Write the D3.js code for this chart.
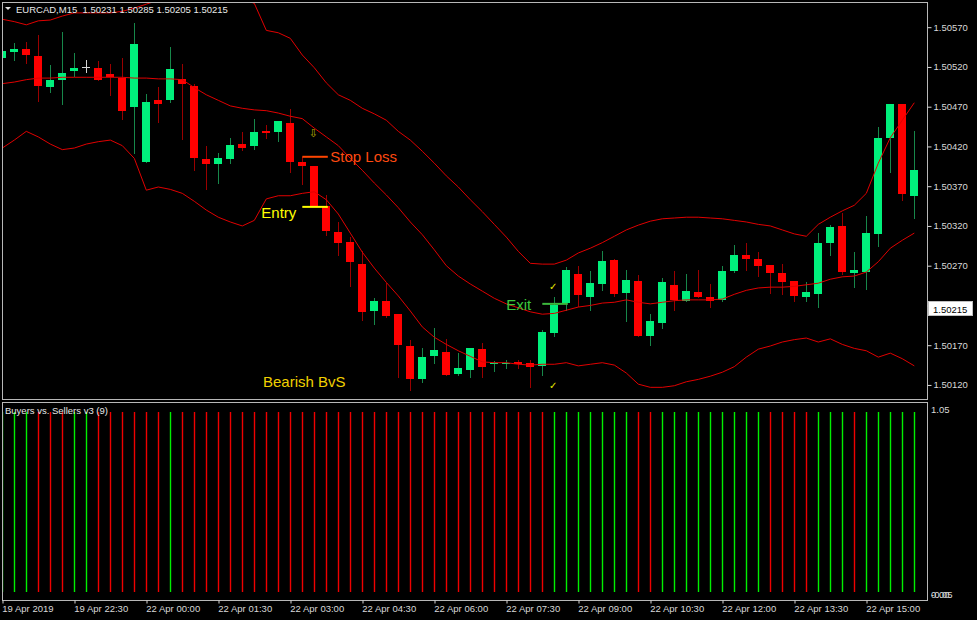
<!DOCTYPE html>
<html><head><meta charset="utf-8">
<script src="https://cdn.jsdelivr.net/npm/d3@7"></script>
<style>html,body{margin:0;padding:0;background:#000;overflow:hidden}svg{display:block}</style>
</head><body>
<svg id="chart" width="977" height="620"></svg>
<script>
// ---------- DATA ----------
const symbolTitle = "EURCAD,M15  1.50231 1.50285 1.50205 1.50215";
const indicatorTitle = "Buyers vs. Sellers v3 (9)";
const lastPrice = 1.50215;

const opens  = [1.50531,1.50539,1.50542,1.50534,1.50495,1.50503,1.50515,1.50520,1.50519,1.50511,
                1.50506,1.50470,1.50400,1.50478,1.50478,1.50505,1.50496,1.50404,1.50398,1.50404,
                1.50423,1.50420,1.50439,1.50438,1.50449,1.50400,1.50395,1.50345,1.50313,1.50300,
                1.50272,1.50213,1.50226,1.50209,1.50169,1.50128,1.50156,1.50161,1.50134,1.50139,
                1.50165,1.50146,1.50146,1.50149,1.50147,1.50144,1.50185,1.50223,1.50260,1.50230,
                1.50247,1.50277,1.50236,1.50251,1.50181,1.50198,1.50246,1.50225,1.50237,1.50231,
                1.50227,1.50263,1.50283,1.50279,1.50271,1.50261,1.50251,1.50231,1.50235,1.50299,
                1.50320,1.50261,1.50262,1.50310,1.50431,1.50473,1.50358];
const highs  = [1.50563,1.50550,1.50551,1.50560,1.50522,1.50564,1.50538,1.50529,1.50527,1.50524,
                1.50531,1.50575,1.50486,1.50495,1.50545,1.50524,1.50499,1.50420,1.50412,1.50431,
                1.50438,1.50454,1.50447,1.50452,1.50467,1.50407,1.50395,1.50359,1.50325,1.50306,
                1.50288,1.50229,1.50248,1.50209,1.50176,1.50166,1.50192,1.50178,1.50160,1.50166,
                1.50173,1.50150,1.50151,1.50152,1.50151,1.50189,1.50231,1.50268,1.50270,1.50263,
                1.50289,1.50278,1.50265,1.50258,1.50209,1.50254,1.50263,1.50260,1.50265,1.50247,
                1.50270,1.50296,1.50299,1.50287,1.50271,1.50272,1.50251,1.50249,1.50311,1.50321,
                1.50336,1.50287,1.50332,1.50444,1.50474,1.50473,1.50439];
const lows   = [1.50519,1.50529,1.50525,1.50477,1.50488,1.50473,1.50508,1.50514,1.50504,1.50485,
                1.50454,1.50412,1.50400,1.50451,1.50476,1.50429,1.50390,1.50367,1.50374,1.50399,
                1.50415,1.50417,1.50430,1.50427,1.50388,1.50373,1.50345,1.50309,1.50283,1.50244,
                1.50202,1.50197,1.50205,1.50130,1.50114,1.50124,1.50147,1.50132,1.50132,1.50130,
                1.50130,1.50137,1.50141,1.50141,1.50118,1.50132,1.50181,1.50214,1.50219,1.50214,
                1.50240,1.50232,1.50201,1.50182,1.50170,1.50192,1.50214,1.50225,1.50231,1.50218,
                1.50226,1.50262,1.50265,1.50257,1.50236,1.50234,1.50226,1.50225,1.50218,1.50283,
                1.50260,1.50243,1.50241,1.50295,1.50388,1.50353,1.50330];
const closes = [1.50540,1.50542,1.50535,1.50496,1.50504,1.50513,1.50519,1.50520,1.50504,1.50507,
                1.50464,1.50549,1.50476,1.50474,1.50518,1.50499,1.50405,1.50398,1.50405,1.50422,
                1.50418,1.50438,1.50437,1.50452,1.50401,1.50395,1.50345,1.50314,1.50298,1.50275,
                1.50212,1.50225,1.50207,1.50170,1.50128,1.50155,1.50164,1.50132,1.50141,1.50166,
                1.50142,1.50147,1.50147,1.50146,1.50142,1.50187,1.50220,1.50264,1.50233,1.50248,
                1.50276,1.50234,1.50252,1.50182,1.50200,1.50249,1.50227,1.50238,1.50231,1.50226,
                1.50263,1.50283,1.50279,1.50269,1.50261,1.50249,1.50232,1.50237,1.50298,1.50319,
                1.50262,1.50265,1.50311,1.50430,1.50473,1.50360,1.50390];

const bbUpper  = [1.50580,1.50577,1.50573,1.50578,1.50579,1.50584,1.50588,1.50588,1.50588,1.50588,
                  1.50590,1.50594,1.50599,1.50604,1.50608,1.50611,1.50611,1.50611,1.50609,1.50608,
                  1.50606,1.50600,1.50566,1.50563,1.50556,1.50535,1.50519,1.50500,1.50485,1.50478,
                  1.50468,1.50461,1.50453,1.50439,1.50428,1.50414,1.50399,1.50383,1.50369,1.50353,
                  1.50338,1.50322,1.50306,1.50288,1.50273,1.50272,1.50272,1.50277,1.50286,1.50292,
                  1.50299,1.50307,1.50315,1.50321,1.50326,1.50329,1.50330,1.50331,1.50331,1.50330,
                  1.50329,1.50327,1.50325,1.50322,1.50320,1.50315,1.50310,1.50307,1.50322,1.50331,
                  1.50339,1.50346,1.50361,1.50399,1.50431,1.50453,1.50475];
const bbMiddle = [1.50499,1.50501,1.50504,1.50506,1.50506,1.50507,1.50507,1.50507,1.50507,1.50507,
                  1.50507,1.50506,1.50506,1.50505,1.50505,1.50504,1.50494,1.50485,1.50478,1.50471,
                  1.50468,1.50466,1.50465,1.50462,1.50458,1.50455,1.50443,1.50432,1.50421,1.50405,
                  1.50390,1.50374,1.50359,1.50343,1.50325,1.50309,1.50290,1.50270,1.50257,1.50247,
                  1.50238,1.50229,1.50222,1.50217,1.50212,1.50209,1.50210,1.50214,1.50218,1.50220,
                  1.50223,1.50224,1.50227,1.50224,1.50222,1.50224,1.50226,1.50227,1.50227,1.50227,
                  1.50228,1.50234,1.50239,1.50242,1.50243,1.50243,1.50244,1.50246,1.50248,1.50253,
                  1.50256,1.50257,1.50262,1.50275,1.50292,1.50302,1.50311];
const bbLower  = [1.50418,1.50428,1.50439,1.50432,1.50423,1.50416,1.50418,1.50423,1.50426,1.50428,
                  1.50421,1.50405,1.50365,1.50369,1.50366,1.50361,1.50351,1.50340,1.50331,1.50325,
                  1.50320,1.50327,1.50354,1.50358,1.50358,1.50361,1.50363,1.50353,1.50335,1.50311,
                  1.50287,1.50267,1.50249,1.50232,1.50213,1.50193,1.50180,1.50171,1.50163,1.50156,
                  1.50149,1.50148,1.50148,1.50146,1.50145,1.50146,1.50146,1.50148,1.50144,1.50146,
                  1.50148,1.50145,1.50135,1.50121,1.50117,1.50117,1.50119,1.50124,1.50127,1.50131,
                  1.50136,1.50143,1.50155,1.50165,1.50169,1.50174,1.50177,1.50179,1.50174,1.50178,
                  1.50171,1.50166,1.50163,1.50155,1.50160,1.50153,1.50144];

// Buyers vs Sellers histogram: 1 = buyers (green), 0 = sellers (red); every bar has value 1
const bvsBuyers = [1,1,1,0,0,0,1,1,0,0, 0,0,0,0,1,0,0,0,0,0,
                   0,0,0,0,0,0,0,0,0,0, 0,0,0,0,0,0,0,0,0,0,
                   0,0,0,0,0,0,1,1,1,1, 1,1,1,0,0,1,1,1,1,1,
                   1,1,1,1,0,0,0,0,1,1, 1,0,1,1,1,1,1];
const bvsValue = 1;

const priceTicks = [1.50570,1.50520,1.50470,1.50420,1.50370,1.50320,1.50270,1.50220,1.50170,1.50120];
const indicatorTicks = ["1.05","0.00","-0.05"];
const timeTickBars   = [0,6,12,18,24,30,36,42,48,54,60,66,72];
const timeTickLabels = ["19 Apr 2019","19 Apr 22:30","22 Apr 00:00","22 Apr 01:30","22 Apr 03:00",
                        "22 Apr 04:30","22 Apr 06:00","22 Apr 07:30","22 Apr 09:00","22 Apr 10:30",
                        "22 Apr 12:00","22 Apr 13:30","22 Apr 15:00"];

// trade annotations
const stopLoss = {label:"Stop Loss", price:1.50407, fromBar:25, toBar:27};
const entry    = {label:"Entry",     price:1.50344, fromBar:25, toBar:27};
const exitPt   = {label:"Exit",      price:1.50222, fromBar:45, toBar:47};
const signalText = "Bearish BvS";
const arrowMark = {bar:26, price:1.50437};
const checkMarks = [{bar:46, price:1.50244},{bar:46, price:1.50120}];

// ---------- DRAW ----------
const W = 977, H = 620;
const plot = {l:2, r:927, t:2, b:400};
const ind  = {t:402, b:601};
const FONT = "'Liberation Sans', Arial, sans-serif";
const AXIS_COL = "#d8d8d8", FRAME_COL = "#b8b8b8";

const svg = d3.select("#chart");
svg.append("rect").attr("width",W).attr("height",H).attr("fill","#000");

const n = opens.length;
const x = d3.scaleLinear().domain([0, n-1]).range([2.3, 914.3]);
const y = d3.scaleLinear().domain([1.50270, 1.50470]).range([265.7, 106.7]);
const yb = d3.scaleLinear().domain([0, 1]).range([592, 412]);

const defs = svg.append("defs");
defs.append("clipPath").attr("id","clipMain").append("rect")
  .attr("x",plot.l).attr("y",plot.t).attr("width",plot.r-plot.l).attr("height",plot.b-plot.t);
defs.append("clipPath").attr("id","clipInd").append("rect")
  .attr("x",plot.l).attr("y",ind.t).attr("width",plot.r-plot.l).attr("height",ind.b-ind.t);

const main = svg.append("g").attr("clip-path","url(#clipMain)");

// candles
const idx = d3.range(n);
const BULL = "#00f07c", BEAR = "#ff0000", BULLW = "#17874a", BEARW = "#9a0000", DOJI = "#d4d4d4";
const cg = main.append("g");
idx.forEach(i => {
  const xc = Math.round(x(i));
  const o = opens[i], c = closes[i];
  const col = c > o ? BULL : (c < o ? BEAR : DOJI);
  const wcol = c > o ? BULLW : (c < o ? BEARW : DOJI);
  cg.append("line").attr("x1",xc+0.5).attr("x2",xc+0.5)
    .attr("y1",Math.round(y(highs[i]))).attr("y2",Math.round(y(lows[i]))+1)
    .attr("stroke",wcol).attr("stroke-width",1);
  const top = Math.round(y(Math.max(o,c))), bot = Math.round(y(Math.min(o,c)));
  cg.append("rect").attr("x",xc-4).attr("y",top).attr("width",8).attr("height",Math.max(1,bot-top))
    .attr("fill",col);
});

// bollinger bands
const line = d3.line().x((d,i)=>x(i)).y(d=>y(d));
[bbUpper,bbMiddle,bbLower].forEach(arr => {
  main.append("path").datum(arr).attr("d",line).attr("fill","none")
    .attr("stroke","#e00000").attr("stroke-width",1);
});

// annotations
function hline(a, color){
  main.append("line").attr("x1",x(a.fromBar)).attr("x2",x(a.toBar)+1.5)
    .attr("y1",y(a.price)).attr("y2",y(a.price)).attr("stroke",color).attr("stroke-width",2);
}
hline(stopLoss,"#ff4500");
hline(entry,"#ffff00");
hline(exitPt,"#3cb83c");
main.append("text").attr("x",x(stopLoss.toBar)+4).attr("y",y(stopLoss.price)+5)
  .attr("font-family",FONT).attr("font-size",15).attr("fill","#ff4a10").text(stopLoss.label);
main.append("text").attr("x",x(entry.fromBar)-6).attr("y",y(entry.price)+11).attr("text-anchor","end")
  .attr("font-family",FONT).attr("font-size",15).attr("fill","#ffff00").text(entry.label);
main.append("text").attr("x",x(exitPt.fromBar)-11).attr("y",y(exitPt.price)+6).attr("text-anchor","end")
  .attr("font-family",FONT).attr("font-size",15).attr("fill","#3cc83c").text(exitPt.label);
main.append("text").attr("x",263).attr("y",387)
  .attr("font-family",FONT).attr("font-size",15).attr("fill","#f0d000").text(signalText);
main.append("text").attr("x",x(arrowMark.bar)-1).attr("y",y(arrowMark.price)+4).attr("text-anchor","middle")
  .attr("font-family","'DejaVu Sans'").attr("font-size",11).attr("fill","#b8a800").text("⇩");
checkMarks.forEach(m => {
  main.append("text").attr("x",x(m.bar)-1).attr("y",y(m.price)+4).attr("text-anchor","middle")
    .attr("font-family","'DejaVu Sans'").attr("font-size",10).attr("fill","#e8e800").text("✓");
});

// header
main.append("path").attr("d","M5,7 L11,7 L8,10 Z").attr("fill","#e0e0e0");
main.append("text").attr("x",16).attr("y",12.5).attr("font-family",FONT).attr("font-size",9.5)
  .attr("fill","#e8e8e8").attr("xml:space","preserve").style("white-space","pre").text(symbolTitle);

// indicator histogram
const ig = svg.append("g").attr("clip-path","url(#clipInd)");
idx.forEach(i => {
  const xc = Math.round(x(i));
  ig.append("line").attr("x1",xc+0.5).attr("x2",xc+0.5)
    .attr("y1",yb(0)).attr("y2",yb(bvsValue))
    .attr("stroke", bvsBuyers[i] ? "#00ee00" : "#ee0000").attr("stroke-width",1.4);
});
ig.append("text").attr("x",5).attr("y",414).attr("font-family",FONT).attr("font-size",9.5)
  .attr("fill","#e8e8e8").text(indicatorTitle);

// frames
svg.append("rect").attr("x",plot.l+0.5).attr("y",plot.t+0.5).attr("width",plot.r-plot.l).attr("height",plot.b-plot.t-1)
  .attr("fill","none").attr("stroke",FRAME_COL);
svg.append("rect").attr("x",plot.l+0.5).attr("y",ind.t+0.5).attr("width",plot.r-plot.l).attr("height",ind.b-ind.t-1)
  .attr("fill","none").attr("stroke",FRAME_COL);

// price axis (the label hidden under the last-price box is left blank)
const fmt5 = d3.format(".5f");
const ly = y(lastPrice);
const pAxis = d3.axisRight(y).tickValues(priceTicks)
  .tickFormat(d => Math.abs(y(d) - ly) < 10 ? "" : fmt5(d)).tickSize(4).tickPadding(2);
const pa = svg.append("g").attr("transform",`translate(${plot.r+0.5},0)`).call(pAxis);
pa.select(".domain").remove();
pa.selectAll("line").attr("stroke",AXIS_COL);
pa.selectAll("text").attr("fill",AXIS_COL).attr("font-family",FONT).attr("font-size",9.5);

// last price box
svg.append("rect").attr("x",928.5).attr("y",Math.round(ly)-7.5).attr("width",44).attr("height",14)
  .attr("fill","#ffffff").attr("stroke","#c0c0c0");
svg.append("text").attr("x",933).attr("y",ly+3.5).attr("font-family",FONT).attr("font-size",9.5)
  .attr("fill","#000").text(fmt5(lastPrice));

// indicator axis labels
const indY = [409, 594, 594];
indicatorTicks.forEach((t,k) => {
  svg.append("text").attr("x",931).attr("y",indY[k]+3.5).attr("font-family",FONT).attr("font-size",9.5)
    .attr("fill",AXIS_COL).text(t);
});

// time axis
const tAxis = d3.axisBottom(x).tickValues(timeTickBars).tickFormat((d,k)=>timeTickLabels[k]).tickSize(3).tickPadding(2);
const ta = svg.append("g").attr("transform",`translate(0,${ind.b-0.5})`).call(tAxis);
ta.select(".domain").remove();
ta.selectAll("line").attr("stroke",AXIS_COL).attr("transform","translate(0.2,0)");
ta.selectAll("text").attr("fill",AXIS_COL).attr("font-family",FONT).attr("font-size",9.5)
  .attr("text-anchor","start").attr("dx",-0.5);
</script>
</body></html>
